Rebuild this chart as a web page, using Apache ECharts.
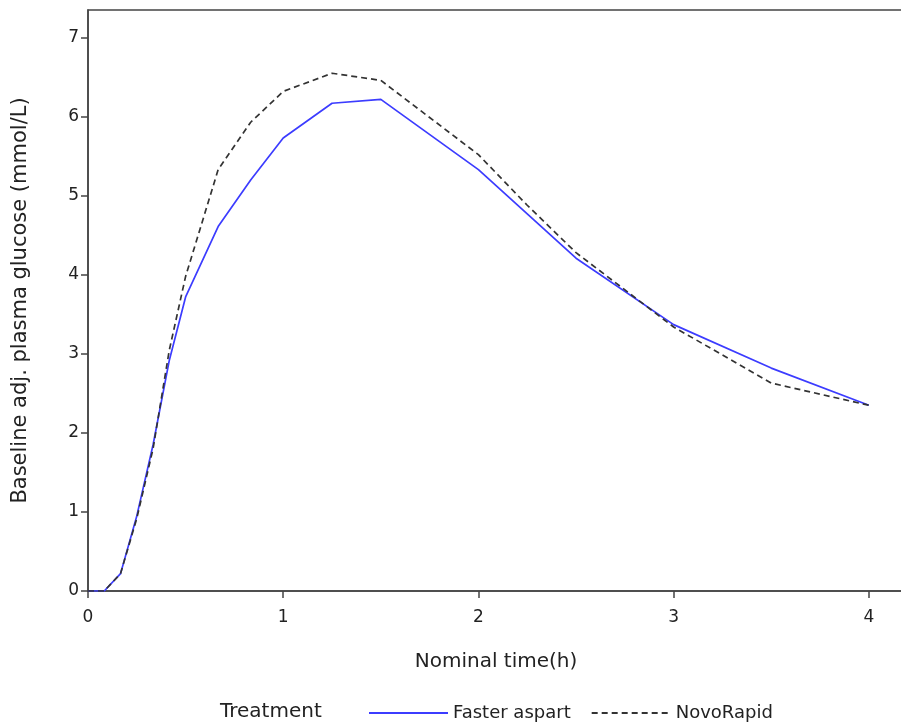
<!DOCTYPE html>
<html>
<head>
<meta charset="utf-8">
<script src="https://cdn.jsdelivr.net/npm/echarts@6/dist/echarts.min.js"></script>
<style>
html,body{margin:0;padding:0;background:#fff;}
#chart{width:901px;height:723px;}
</style>
</head>
<body>
<div id="chart"></div>
<script>
// time points (hours)
var timeH = [0, 5/60, 10/60, 15/60, 20/60, 25/60, 30/60, 40/60, 50/60, 1, 1.25, 1.5, 2, 2.25, 2.5, 3, 3.5, 4];
// Faster aspart
var fasterAspart = [0, 0, 0.22, 0.95, 1.85, 2.92, 3.72, 4.61, 5.2, 5.73, 6.17, 6.22, 5.33, 4.77, 4.21, 3.37, 2.82, 2.35];
// NovoRapid
var novoRapid = [0, 0, 0.22, 0.92, 1.8, 3.05, 3.98, 5.33, 5.93, 6.32, 6.55, 6.46, 5.52, 4.88, 4.28, 3.34, 2.63, 2.35];
var xTicks = [0, 1, 2, 3, 4];
var yTicks = [0, 1, 2, 3, 4, 5, 6, 7];

function pairs(xs, ys){ return xs.map(function(x,i){ return [x, ys[i]]; }); }

var FONT = 'DejaVu Sans';
var chart = echarts.init(document.getElementById('chart'), null, {renderer:'canvas'});
chart.setOption({
  animation: false,
  backgroundColor: '#fff',
  grid: {left: 88, top: 10, right: -3, bottom: 132, show: true, borderColor: '#444', borderWidth: 1.5,
    containLabel: false, outerBoundsMode: 'none'},
  xAxis: {
    type: 'value', min: 0, max: 4.18, interval: 1,
    name: 'Nominal time(h)', nameLocation: 'middle', nameGap: 61,
    nameTextStyle: {fontFamily: FONT, fontSize: 20, color: '#222'},
    axisLine: {show: true, lineStyle: {color: '#444', width: 1.5}},
    axisTick: {show: true, length: 7, lineStyle: {color: '#444', width: 1.5}},
    axisLabel: {fontFamily: FONT, fontSize: 17, color: '#222', margin: 18, showMaxLabel: false,
      formatter: function(v){ return xTicks.indexOf(v) >= 0 ? String(v) : ''; }},
    splitLine: {show: false}
  },
  yAxis: {
    type: 'value', min: 0, max: 7.35, interval: 1,
    name: 'Baseline adj. plasma glucose (mmol/L)', nameLocation: 'middle', nameGap: 57,
    nameTextStyle: {fontFamily: FONT, fontSize: 21, color: '#222'},
    axisLine: {show: true, lineStyle: {color: '#444', width: 1.5}},
    axisTick: {show: true, length: 7, lineStyle: {color: '#444', width: 1.5}},
    axisLabel: {fontFamily: FONT, fontSize: 17, color: '#222', margin: 9, showMaxLabel: false,
      formatter: function(v){ return yTicks.indexOf(v) >= 0 ? String(v) : ''; }},
    splitLine: {show: false}
  },
  legend: {
    left: 363, top: 699, itemWidth: 79, itemHeight: 10, itemGap: 20,
    itemStyle: {opacity: 0},
    textStyle: {fontFamily: FONT, fontSize: 18, color: '#222'},
    data: ['Faster aspart', 'NovoRapid']
  },
  graphic: [{
    type: 'text', left: 220, top: 702,
    style: {text: 'Treatment', fontFamily: FONT, fontSize: 20, fill: '#222'}
  }],
  series: [
    {name: 'Faster aspart', type: 'line', data: pairs(timeH, fasterAspart), symbol: 'none',
      lineStyle: {color: '#3c3cff', width: 1.7}, itemStyle: {color: '#3c3cff'}},
    {name: 'NovoRapid', type: 'line', data: pairs(timeH, novoRapid), symbol: 'none',
      lineStyle: {color: '#333', width: 1.7, type: [6, 4]}, itemStyle: {color: '#333'}}
  ]
});
</script>
</body>
</html>
